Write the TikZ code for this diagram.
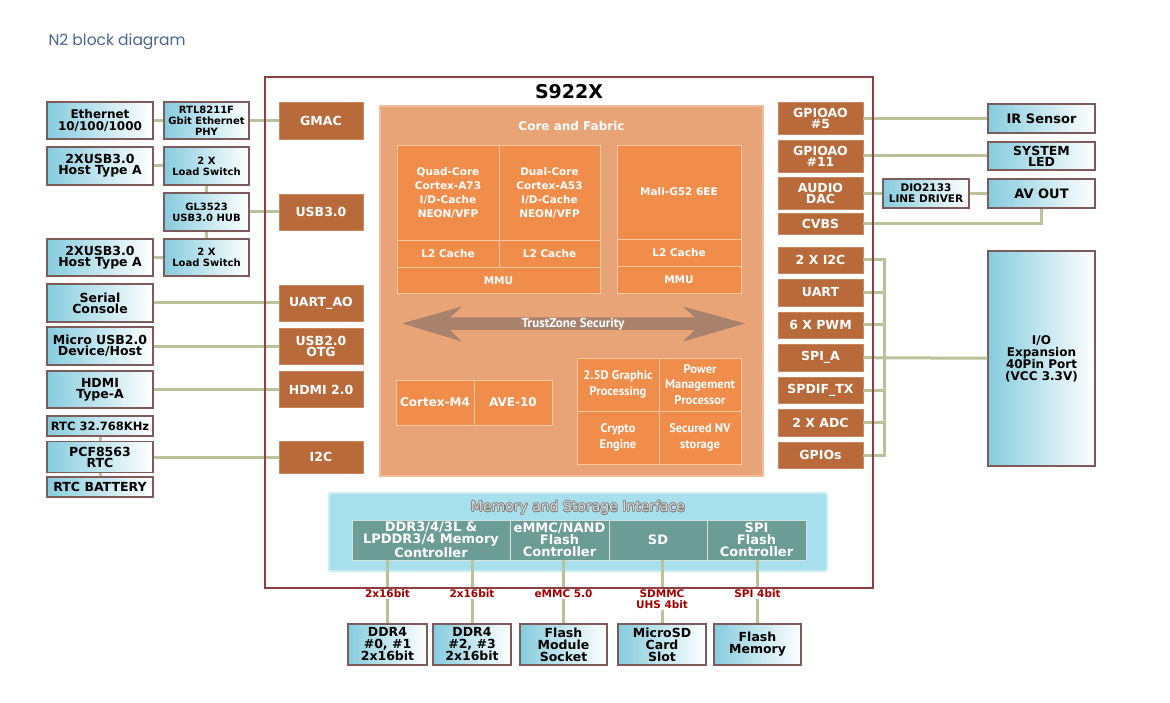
\documentclass[tikz,border=0pt]{standalone}
\usepackage{fontspec}
\setmainfont{DejaVu Sans}
\newfontfamily\narrowfont{PT Sans}
\newfontfamily\headfont{Poppins}
\usepackage[copies]{contour}
\usetikzlibrary{calc}
\definecolor{PinClr}{HTML}{B96A3A}
\definecolor{CoreClr}{HTML}{E8A476}
\definecolor{CoreEdge}{HTML}{F0BE98}
\definecolor{BlockClr}{HTML}{F08D4A}
\definecolor{BlockEdge}{HTML}{F7C7A2}
\definecolor{ChipClr}{HTML}{8E4040}
\definecolor{WireClr}{HTML}{B9C29B}
\definecolor{BoxBlue}{HTML}{86CCDE}
\definecolor{BoxEdge}{HTML}{7E5B5B}
\definecolor{TrustClr}{HTML}{A8826C}
\definecolor{MemClr}{HTML}{A8DFEC}
\definecolor{MemEdge}{HTML}{C9EDF6}
\definecolor{CtrlClr}{HTML}{6B9D96}
\definecolor{BusLabel}{HTML}{A40000}
\definecolor{HeadClr}{HTML}{4A6590}
\newcommand{\fs}[2]{\fontsize{#1}{#2}\selectfont}
\contourlength{0.6pt}

\begin{document}
\begin{tikzpicture}[x=1pt,y=-1pt,
  sz/.style 2 args={minimum width=#1pt,minimum height=#2pt},
  blu/.style={draw=BoxEdge,line width=1.4pt,left color=BoxBlue,right color=white,align=center,inner sep=0pt,font=\fs{12.5}{11}\bfseries},
  pin/.style={fill=PinClr,draw=PinClr!80!white,line width=.8pt,text=white,align=center,inner sep=0pt,font=\fs{12.5}{11}\bfseries},
  blk/.style={fill=BlockClr,draw=BlockEdge,line width=.8pt,text=white,align=center,inner sep=0pt,font=\fs{10.5}{14}\bfseries},
  sec/.style={blk,font=\narrowfont\fs{12.5}{15.5}\bfseries},
  ctl/.style={fill=CtrlClr,draw=white!70!CtrlClr,line width=.8pt,text=white,align=center,inner sep=0pt,font=\fs{13}{12}\bfseries},
  wire/.style={draw=WireClr,line width=3pt},
  bus/.style={fill=white,text=BusLabel,inner sep=1pt,align=center,font=\fs{10.5}{11}\bfseries}]
\useasboundingbox (0,0) rectangle (1170,703);

\node[anchor=west,text=HeadClr,font=\headfont\fs{15.5}{17}] (head) at (45,42) {N2 block diagram};
\node[font=\fs{19}{20}\bfseries] (soc) at (569,92) {S922X};

\node[fill=CoreClr,draw=CoreEdge,line width=1.5pt,sz={383}{370}] (fabric) at (571.5,291) {};
\node[text=white,font=\fs{12}{13}\bfseries] (fabtitle) at (571.5,126) {Core and Fabric};
\node[blk,sz={102}{95.5}] (quad) at (448,192.75) {Quad-Core\\Cortex-A73\\I/D-Cache\\NEON/VFP};
\node[blk,sz={101}{95.5}] (dual) at (549.5,192.75) {Dual-Core\\Cortex-A53\\I/D-Cache\\NEON/VFP};
\node[blk,sz={102}{26.5}] (l2a) at (448,254) {L2 Cache};
\node[blk,sz={101}{26.5}] (l2b) at (549.5,254) {L2 Cache};
\node[blk,sz={203}{26}] (mmua) at (498.5,280.25) {MMU};
\node[blk,sz={124}{94}] (mali) at (679,192) {Mali-G52 6EE};
\node[blk,sz={124}{27}] (l2c) at (679,252.5) {L2 Cache};
\node[blk,sz={124}{27}] (mmuc) at (679,279.5) {MMU};
\fill[TrustClr] (402,323.5) -- (462,306.5) -- (450,317.5) -- (695,317.5) -- (683,306.5) -- (745,323.5)
  -- (683,341.5) -- (695,330) -- (450,330) -- (462,341.5) -- cycle;
\node[text=white,font=\narrowfont\fs{13}{13}\bfseries] (trust) at (573,324) {TrustZone Security};
\node[blk,sz={78}{45},font=\fs{12}{13}\bfseries] (cm4) at (435,402.5) {Cortex-M4};
\node[blk,sz={78}{45},font=\fs{12}{13}\bfseries] (ave) at (513,402.5) {AVE-10};
\node[sec,sz={82}{53}] (g25) at (618,384.5) {2.5D Graphic\\Processing};
\node[sec,sz={82}{53}] (pmp) at (700,384.5) {Power\\Management\\Processor};
\node[sec,sz={82}{53}] (cry) at (618,437.5) {Crypto\\Engine};
\node[sec,sz={82}{53}] (snv) at (700,437.5) {Secured NV\\storage};

\node[fill=MemClr,draw=MemEdge,line width=2pt,rounded corners=2pt,sz={498}{78}] (mem) at (578,532) {};
\node[font=\fs{14}{15}] (memtitle) at (578,508) {\contour{gray}{\textcolor{white!85!black}{Memory and Storage Interface}}};
\node[ctl,sz={158}{40}] (ddrc) at (431,540) {DDR3/4/3L \&\\LPDDR3/4 Memory\\Controller};
\node[ctl,sz={99}{40}] (emmc) at (559.5,540) {eMMC/NAND\\Flash\\Controller};
\node[ctl,sz={98}{40}] (sd) at (658,540) {SD};
\node[ctl,sz={99}{40}] (spic) at (756.5,540) {SPI\\Flash\\Controller};

\node[blu,sz={79}{41},font=\fs{12.5}{12}\bfseries] (ddra) at (387.5,644.5) {DDR4\\\#0, \#1\\2x16bit};
\node[blu,sz={78}{41},font=\fs{12.5}{12}\bfseries] (ddrb) at (472,644.5) {DDR4\\\#2, \#3\\2x16bit};
\node[blu,sz={87}{41},font=\fs{12.5}{12}\bfseries] (flm) at (563.5,644.5) {Flash\\Module\\Socket};
\node[blu,sz={88}{41},font=\fs{12.5}{12}\bfseries] (msd) at (662,644.5) {MicroSD\\Card\\Slot};
\node[blu,sz={87}{41},font=\fs{12.5}{12}\bfseries] (fmem) at (757.5,644.5) {Flash\\Memory};

\node[blu,sz={106}{37},font=\fs{12}{11.5}\bfseries] (eth) at (100,120.5) {Ethernet\\10/100/1000};
\node[blu,sz={85}{37},font=\fs{10}{11}\bfseries] (phy) at (206.5,120.5) {RTL8211F\\Gbit Ethernet\\PHY};
\node[pin,sz={84}{37}] (gmac) at (321,120.5) {GMAC};
\node[blu,sz={106}{38}] (usba) at (100,166) {2XUSB3.0\\Host Type A};
\node[blu,sz={85}{38},font=\fs{10}{11}\bfseries] (swa) at (206.5,166) {2 X\\Load Switch};
\node[blu,sz={85}{38},font=\fs{10}{11}\bfseries] (hub) at (206.5,212) {GL3523\\USB3.0 HUB};
\node[pin,sz={84}{36}] (usb3) at (321,212) {USB3.0};
\node[blu,sz={106}{37}] (usbb) at (100,257.5) {2XUSB3.0\\Host Type A};
\node[blu,sz={85}{37},font=\fs{10}{11}\bfseries] (swb) at (206.5,257.5) {2 X\\Load Switch};
\node[blu,sz={106}{38}] (serial) at (100,303) {Serial\\Console};
\node[pin,sz={84}{36}] (uartao) at (321,303) {UART\_AO};
\node[blu,sz={106}{38}] (micro) at (100,346) {Micro USB2.0\\Device/Host};
\node[pin,sz={84}{36}] (otg) at (321,346) {USB2.0\\OTG};
\node[blu,sz={106}{37}] (hdmia) at (100,389.5) {HDMI\\Type-A};
\node[pin,sz={84}{36}] (hdmi) at (321,389.5) {HDMI 2.0};
\node[blu,sz={106}{20},font=\fs{11.5}{12}\bfseries] (rtcx) at (100,426) {RTC 32.768KHz};
\node[blu,sz={106}{31}] (pcf) at (100,457) {PCF8563\\RTC};
\node[pin,sz={84}{32}] (i2c) at (321,457) {I2C};
\node[blu,sz={106}{20}] (batt) at (100,487) {RTC BATTERY};

\node[pin,sz={85}{32}] (gp5) at (820.5,118.5) {GPIOAO\\\#5};
\node[blu,sz={107}{29},font=\fs{13}{12}\bfseries] (ir) at (1041.5,118.5) {IR Sensor};
\node[pin,sz={85}{32}] (gp11) at (820.5,156) {GPIOAO\\\#11};
\node[blu,sz={107}{28}] (led) at (1041.5,156) {SYSTEM\\LED};
\node[pin,sz={85}{32}] (dac) at (820.5,193.5) {AUDIO\\DAC};
\node[blu,sz={86}{29},font=\fs{10.5}{11}\bfseries] (dio) at (926,193.5) {DIO2133\\LINE DRIVER};
\node[blu,sz={107}{29},font=\fs{13}{12}\bfseries] (av) at (1041.5,193.5) {AV OUT};
\node[pin,sz={85}{21}] (cvbs) at (820.5,223.5) {CVBS};
\node[pin,sz={85}{26}] (i2cb) at (820.5,260) {2 X I2C};
\node[pin,sz={85}{27}] (uart) at (820.5,292.5) {UART};
\node[pin,sz={85}{26}] (pwm) at (820.5,325) {6 X PWM};
\node[pin,sz={85}{27}] (spia) at (820.5,357.5) {SPI\_A};
\node[pin,sz={85}{26}] (spdif) at (820.5,390) {SPDIF\_TX};
\node[pin,sz={85}{27}] (adc) at (820.5,422.5) {2 X ADC};
\node[pin,sz={85}{26}] (gpios) at (820.5,455) {GPIOs};
\node[blu,sz={107}{215},font=\fs{12}{12}\bfseries] (io) at (1041.5,358.5) {I/O\\Expansion\\40Pin Port\\(VCC 3.3V)};

\draw[wire] (eth) -- (phy);
\draw[wire] (phy) -- (gmac);
\draw[wire] (usba) -- (swa);
\draw[wire] (swa) -- (hub);
\draw[wire] (hub) -- (swb);
\draw[wire] (usbb) -- (swb);
\draw[wire] (hub) -- (usb3);
\draw[wire] (serial) -- (uartao);
\draw[wire] (micro) -- (otg);
\draw[wire] (hdmia) -- (hdmi);
\draw[wire] (rtcx) -- (pcf);
\draw[wire] (pcf) -- (batt);
\draw[wire] (pcf) -- (i2c);

\draw[wire] (gp5) -- (ir);
\draw[wire] (gp11) -- (led);
\draw[wire] (dac) -- (dio);
\draw[wire] (dio) -- (av);
\draw[wire] (cvbs) -| (av);
\coordinate (busx) at (884,0);
\draw[wire] (i2cb) -| (busx |- gpios) -- (gpios);
\draw[wire] (uart) -- (uart -| busx);
\draw[wire] (pwm) -- (pwm -| busx);
\draw[wire] (spdif) -- (spdif -| busx);
\draw[wire] (adc) -- (adc -| busx);
\draw[wire] (spia) -- (io);

\draw[wire] (ddrc.south -| ddra) -- node[bus,pos=.53] {2x16bit} (ddra);
\draw[wire] (ddrc.south -| ddrb) -- node[bus,pos=.53] {2x16bit} (ddrb);
\draw[wire] (emmc.south -| flm) -- node[bus,pos=.53] {eMMC 5.0} (flm);
\draw[wire] (sd.south -| msd) -- node[bus,pos=.62] {SDMMC\\UHS 4bit} (msd);
\draw[wire] (spic.south -| fmem) -- node[bus,pos=.53] {SPI 4bit} (fmem);

\node[draw=ChipClr,line width=2pt,sz={608}{511}] (chip) at (569,332.5) {};
\end{tikzpicture}
\end{document}
